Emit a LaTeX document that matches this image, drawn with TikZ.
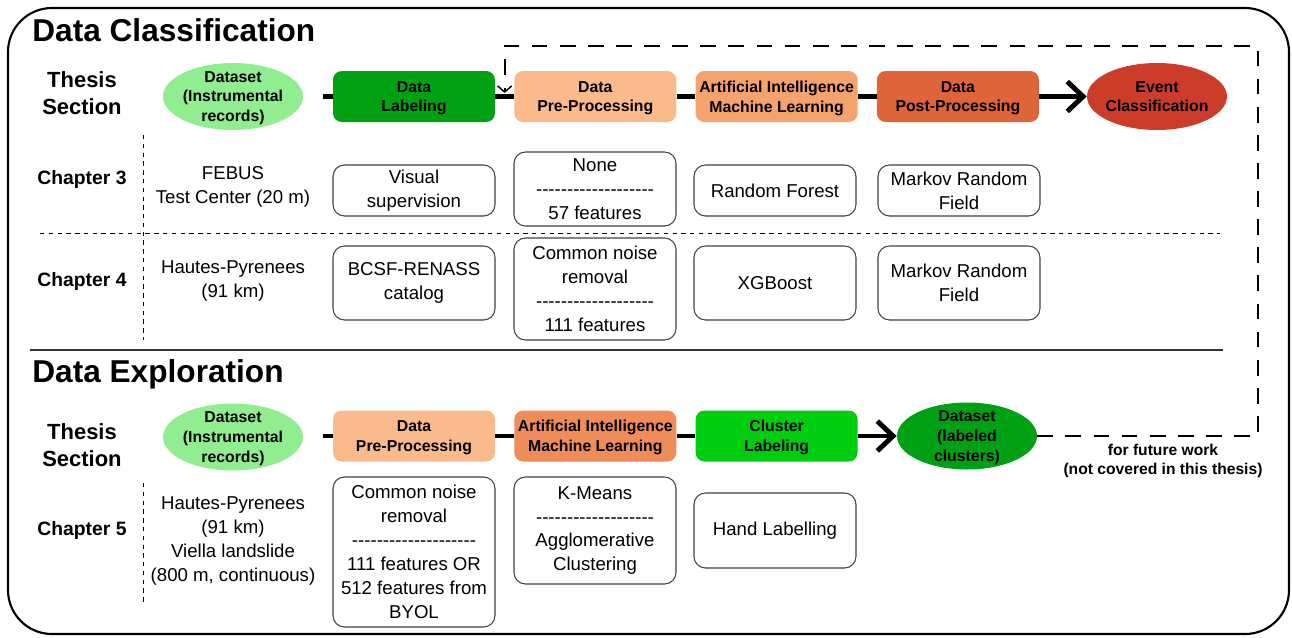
\documentclass[tikz,border=0pt]{standalone}
\usepackage{fontspec}
\setmainfont{Liberation Sans}
\usetikzlibrary{
    shapes.geometric,
    arrows.meta,
    calc,
}
\definecolor{dsgreen}{RGB}{144,238,144}
\definecolor{labgreen}{RGB}{0,162,20}
\definecolor{preorange}{RGB}{250,186,140}
\definecolor{aiorangeA}{RGB}{245,163,110}
\definecolor{postorange}{RGB}{222,100,58}
\definecolor{eventred}{RGB}{204,60,42}
\definecolor{aiorangeB}{RGB}{238,140,90}
\definecolor{clgreen}{RGB}{0,205,15}
\definecolor{dsdark}{RGB}{0,160,20}
\newcommand{\dashrow}[1]{\foreach \k in {1,...,#1}{-\kern0pt}}

\begin{document}
\begin{tikzpicture}[x=0.02cm,y=-0.02cm,
  stage/.style={rounded corners=5pt,minimum width=3.24cm,minimum height=1.02cm,inner sep=0pt,text depth=0pt,align=center,font=\fontsize{9}{11.3}\selectfont\bfseries},
  dataset/.style={ellipse,minimum width=2.8cm,minimum height=1.34cm,inner xsep=-2pt,inner ysep=-8pt,text depth=0pt,align=center,font=\fontsize{9}{11.3}\selectfont\bfseries},
  detail/.style={draw=black!75,line width=0.6pt,rounded corners=6.5pt,minimum width=3.24cm,inner sep=0pt,align=center,font=\fontsize{10.6}{13.6}\selectfont},
  plain/.style={align=center,font=\fontsize{10.6}{13.6}\selectfont},
  chap/.style={font=\fontsize{11}{13}\selectfont\bfseries},
  thesis/.style={align=center,font=\fontsize{12.5}{15.3}\selectfont\bfseries},
  heading/.style={anchor=base west,inner sep=0pt,font=\fontsize{18}{21}\selectfont\bfseries},
  note/.style={align=center,font=\fontsize{8.9}{11.3}\selectfont\bfseries},
  link/.style={line width=2.8pt},
  flow/.style={line width=2.8pt,-{Straight Barb[length=9pt,width=17pt]}},
  future/.style={line width=1.1pt,dash pattern=on 9pt off 7pt},
  rowsep/.style={line width=0.5pt,dash pattern=on 2.5pt off 2.5pt}]
\useasboundingbox (0,0) rectangle (1292,637);
\draw[line width=1.2pt,rounded corners=25pt] (8,8) rectangle (1289,634);

% classification
\node[heading] (hdA) at (32,41) {Data Classification};
\node[thesis] (thA) at (82,93) {Thesis\\Section};
\node[dataset,fill=dsgreen] (dsA) at (233,96.5) {Dataset\\(Instrumental\\records)};
\foreach \t/\c [count=\i] in {{Data\\Labeling}/labgreen,{Data\\Pre-Processing}/preorange,{Artificial Intelligence\\Machine Learning}/aiorangeA,{Data\\Post-Processing}/postorange}
  \node[stage,fill=\c] (stA\i) at (414+181.3*\i-181.3,96.5) {\t};
\node[dataset,fill=eventred] (evA) at (1157,96.5) {Event\\Classification};
\coordinate (inA) at (323,96.5);
\draw[link] (inA) -- (stA1);
\foreach \i [evaluate=\i as \j using int(\i+1)] in {1,2,3}
  \draw[link] (stA\i) -- (stA\j);
\draw[flow] (stA4) -- (evA);

\node[chap] (c3) at (82,179) {Chapter 3};
\node[plain] (s3) at (233,187) {FEBUS\\Test Center (20 m)};
\node[detail,minimum height=1.02cm] (v3) at (414,190.5) {Visual\\supervision};
\node[detail,minimum height=1.48cm] (p3) at (595,189) {None\\\dashrow{19}\\57 features};
\node[detail,minimum height=1.02cm] (m3) at (775,190.5) {Random Forest};
\node[detail,minimum height=1.02cm] (r3) at (959,190.5) {Markov Random\\Field};

\node[chap] (c4) at (82,281) {Chapter 4};
\node[plain] (s4) at (233,281) {Hautes-Pyrenees\\(91 km)};
\node[detail,minimum height=1.48cm] (v4) at (414,283) {BCSF-RENASS\\catalog};
\node[detail,minimum height=2.04cm] (p4) at (595,289) {Common noise\\removal\\\dashrow{19}\\111 features};
\node[detail,minimum height=1.48cm] (m4) at (775,283) {XGBoost};
\node[detail,minimum height=1.48cm] (r4) at (959,283) {Markov Random\\Field};

\draw[rowsep] (143,135) -- (143,340);
\draw[rowsep] (40,233) -- (1220,233);
\draw[line width=0.8pt,black!80] (30,350) -- (1223,350);

% exploration
\node[heading] (hdB) at (32,382) {Data Exploration};
\node[thesis] (thB) at (82,445) {Thesis\\Section};
\node[dataset,fill=dsgreen] (dsB) at (233,437) {Dataset\\(Instrumental\\records)};
\foreach \t/\c [count=\i] in {{Data\\Pre-Processing}/preorange,{Artificial Intelligence\\Machine Learning}/aiorangeB,{Cluster\\Labeling}/clgreen}
  \node[stage,fill=\c] (stB\i) at (414+181.3*\i-181.3,436) {\t};
\node[dataset,fill=dsdark] (outB) at (967,436) {Dataset\\(labeled\\clusters)};
\coordinate (inB) at (323,436);
\draw[link] (inB) -- (stB1);
\foreach \i [evaluate=\i as \j using int(\i+1)] in {1,2}
  \draw[link] (stB\i) -- (stB\j);
\draw[flow] (stB3) -- (outB);
\node[note] (fw) at (1163,461) {for future work\\(not covered in this thesis)};

\coordinate (fbR) at (1258,46);
\coordinate (fbT) at ($(stA1.east)!.5!(stA2.west)$);
\draw[future,-{Straight Barb[length=3.5pt,width=8pt,line width=0.8pt]}] (outB) -- (fbR |- outB) -- (fbR) -| ([yshift=2pt]fbT);

\node[chap] (c5) at (82,530) {Chapter 5};
\node[plain] (s5) at (233,541) {Hautes-Pyrenees\\(91 km)\\Viella landslide\\(800 m, continuous)};
\node[detail,minimum height=3cm] (p5) at (414,552) {Common noise\\removal\\\dashrow{20}\\111 features OR\\512 features from\\BYOL};
\node[detail,minimum height=2.14cm] (m5) at (595,530.5) {K-Means\\\dashrow{19}\\Agglomerative\\Clustering};
\node[detail,minimum height=1.5cm] (h5) at (775,530.5) {Hand Labelling};
\draw[rowsep] (143,483) -- (143,603);
\end{tikzpicture}
\end{document}
